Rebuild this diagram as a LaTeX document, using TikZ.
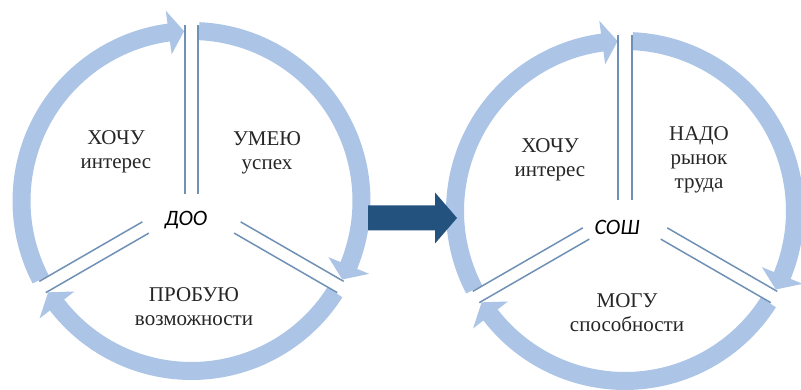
\documentclass[tikz,border=0pt]{standalone}
\usepackage{fontspec}
\setmainfont{Liberation Serif}
\newfontfamily\serifcyr{Liberation Serif}
\newfontfamily\calfont{Carlito}
\definecolor{ringblue}{RGB}{172,196,230}
\definecolor{divblue}{RGB}{112,145,182}
\definecolor{bigblue}{RGB}{36,82,127}
\tikzset{
  lbl/.style={font=\serifcyr\fontsize{21}{24}\selectfont, align=center, inner sep=0pt, text=black!85},
  ctr/.style={font=\calfont\itshape\fontsize{22}{24}\selectfont, inner sep=0pt},
  ringarc/.style={draw=ringblue, line width=18pt},
  divl/.style={draw=divblue, line width=1.5pt},
}
% clockwise ring arrow: #1 start angle, #2 tip angle
\newcommand\cyclearrow[2]{%
  \draw[ringarc] (#1:170) arc[start angle=#1, end angle={#2+4.6}, radius=170];
  \fill[ringblue] ({#2+5.2}:148) -- ({#2+5.2}:192) -- (#2:170) -- cycle;
}
% pair of divider lines: #1 angle, #2 inner r, #3 outer r, #4 offset
\newcommand\divpair[4]{%
  \begin{scope}[rotate=#1]
    \draw[divl] (#2,#4) -- (#3,#4);
    \draw[divl] (#2,-#4) -- (#3,-#4);
  \end{scope}
}
\begin{document}
\begin{tikzpicture}[x=1pt,y=1pt]
  \useasboundingbox (0,0) rectangle (801,390);
  \clip (0,0) rectangle (801,390);
  \fill[white] (0,0) rectangle (801,390);

  % left cycle
  \begin{scope}[shift={(191.5,189)}]
    \cyclearrow{207.5}{92.5}
    \cyclearrow{87.5}{-27.5}
    \cyclearrow{-32.5}{-147.5}
    \divpair{90}{7}{176}{6.5}
    \divpair{-30}{53}{172}{6.5}
    \divpair{210}{53}{172}{6.5}
  \end{scope}

  % right cycle
  \begin{scope}[shift={(625,179)}]
    \cyclearrow{207.5}{92.5}
    \cyclearrow{87.5}{-27.5}
    \cyclearrow{-32.5}{-147.5}
    \divpair{90}{11}{176}{7}
    \divpair{-30}{45}{172}{6.5}
    \divpair{210}{45}{172}{6.5}
  \end{scope}

  % labels, left
  \node[lbl] (lwant) at (116,238) {ХОЧУ\\интерес};
  \node[lbl] (lcan) at (267,237) {УМЕЮ\\успех};
  \node[lbl] (ltry) at (194,83) {ПРОБУЮ\\возможности};
  \node[ctr] (doo) at (186,170) {ДОО};

  % labels, right
  \node[lbl] (rwant) at (550,230) {ХОЧУ\\интерес};
  \node[lbl] (rneed) at (699,230) {НАДО\\рынок\\труда};
  \node[lbl] (rable) at (627,77) {МОГУ\\способности};
  \node[ctr] (sosh) at (617,163) {СОШ};

  % central block arrow
  \fill[bigblue] (368,159.5) -- (435,159.5) -- (435,146.5) -- (457,172)
     -- (435,197.5) -- (435,184.5) -- (368,184.5) -- cycle;
\end{tikzpicture}
\end{document}
